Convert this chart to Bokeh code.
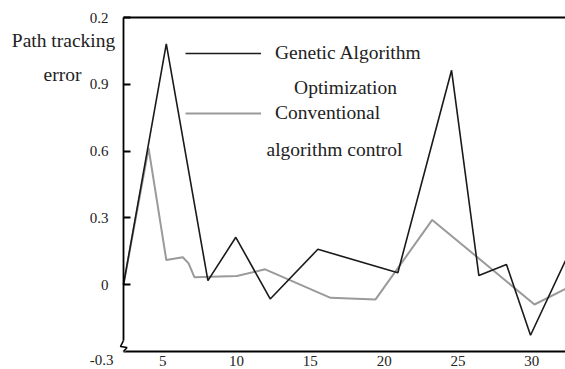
from bokeh.plotting import figure
from bokeh.models import Range1d, FixedTicker, LinearAxis, Label, Legend, LegendItem
from bokeh.embed import file_html
from bokeh.resources import INLINE

# ---- data ----
ga_x = [2.34, 5.24, 8.06, 9.95, 12.28, 15.51, 20.93, 24.57, 26.42, 28.29, 29.92, 32.29]
ga_y = [0.0, 1.082, 0.018, 0.213, -0.064, 0.159, 0.054, 0.963, 0.041, 0.091, -0.227, 0.108]
conv_x = [2.34, 4.04, 5.24, 6.36, 6.75, 7.15, 10.02, 11.94, 16.37, 19.42, 23.26, 30.19, 32.29]
conv_y = [0.0, 0.613, 0.111, 0.123, 0.096, 0.033, 0.039, 0.069, -0.059, -0.066, 0.291, -0.089, -0.019]

x_ticks = [5, 10, 15, 20, 25, 30]
y_ticks = [0, 0.3, 0.6, 0.9, 1.2]
y_tick_labels = ["0", "0.3", "0.6", "0.9", "0.2"]
y_bottom_label = "-0.3"
y_title = ["Path tracking", "error"]
ga_name = ["Genetic Algorithm", "Optimization"]
conv_name = ["Conventional", "algorithm control"]

# axis box (data) and pixel layout
X0, X1 = 2.34, 32.29
Y0, Y1 = -0.3, 1.2
W, H = 565, 369
LEFT, TOP, BOTTOM = 123, 17, 18
xppu = (W - LEFT) / (X1 - X0)
yppu = (H - TOP - BOTTOM) / (Y1 - Y0)
FONT = "Liberation Serif"
INK = "#222222"

p = figure(width=W, height=H, output_backend="svg", toolbar_location=None,
           x_range=Range1d(X0 - LEFT / xppu, X1),
           y_range=Range1d(Y0 - BOTTOM / yppu, Y1 + TOP / yppu),
           min_border=0, x_axis_type=None, y_axis_type=None)
p.outline_line_color = None
p.xgrid.visible = False
p.ygrid.visible = False


def base_axis(ax):
    ax.major_tick_in = 0
    ax.major_tick_out = 0
    ax.minor_tick_in = 0
    ax.minor_tick_out = 0
    ax.major_label_text_font = FONT
    ax.major_label_text_font_size = "15px"
    ax.major_label_text_color = INK
    ax.axis_line_width = 1.8
    ax.axis_line_color = "black"
    return ax


xa = base_axis(LinearAxis(ticker=FixedTicker(ticks=x_ticks), fixed_location=Y0, bounds=(X0, X1)))
xa.major_label_standoff = 4
p.add_layout(xa, "below")

ya = base_axis(LinearAxis(ticker=FixedTicker(ticks=y_ticks), fixed_location=X0, bounds=(Y0, Y1)))
ya.major_label_overrides = {t: s for t, s in zip(y_ticks, y_tick_labels)}
ya.major_tick_in = 7
ya.major_tick_line_width = 1.8
ya.major_label_standoff = 15
p.add_layout(ya, "left")

ta = base_axis(LinearAxis(ticker=FixedTicker(ticks=[]), fixed_location=Y1, bounds=(X0, X1)))
ta.major_label_text_font_size = "0px"
p.add_layout(ta, "above")

# axis break mark on the y axis
p.line([X0, X0], [Y0 + 11 / yppu, Y0], line_color="white", line_width=4, level="overlay")
p.line([X0, X0 - 3 / xppu, X0 + 3.5 / xppu, X0],
       [Y0 + 11 / yppu, Y0 + 5 / yppu, Y0 + 4 / yppu, Y0],
       line_color="black", line_width=1.6, level="overlay")

# series
r_conv = p.line(conv_x, conv_y, line_color="#9a9a9a", line_width=2)
r_ga = p.line(ga_x, ga_y, line_color="#1a1a1a", line_width=1.6)

# legend
legend = Legend(items=[LegendItem(label=ga_name[0], renderers=[r_ga]),
                       LegendItem(label=conv_name[0], renderers=[r_conv])],
                location=(185, 245), glyph_width=76, glyph_height=22, label_height=22,
                label_standoff=14, spacing=38, padding=0, margin=0,
                border_line_color=None, background_fill_alpha=0,
                label_text_font=FONT, label_text_font_size="19.5px", label_text_color=INK)
p.add_layout(legend)

txt = dict(text_font=FONT, text_font_size="19.5px", text_color=INK,
           text_align="center", text_baseline="middle")
p.add_layout(Label(x=X0, y=Y1, x_offset=222, y_offset=-70, text=ga_name[1], **txt))
p.add_layout(Label(x=X0, y=Y1, x_offset=211, y_offset=-132, text=conv_name[1], **txt))
p.add_layout(Label(x=X0, y=Y1, x_offset=-60, y_offset=-23, text=y_title[0], **txt))
p.add_layout(Label(x=X0, y=Y1, x_offset=-61, y_offset=-57, text=y_title[1], **txt))
p.add_layout(Label(x=X0, y=Y0, x_offset=-10, y_offset=-8, text=y_bottom_label,
                   text_font=FONT, text_font_size="15px", text_color=INK,
                   text_align="right", text_baseline="middle"))

open("out.html", "w").write(file_html(p, INLINE))
